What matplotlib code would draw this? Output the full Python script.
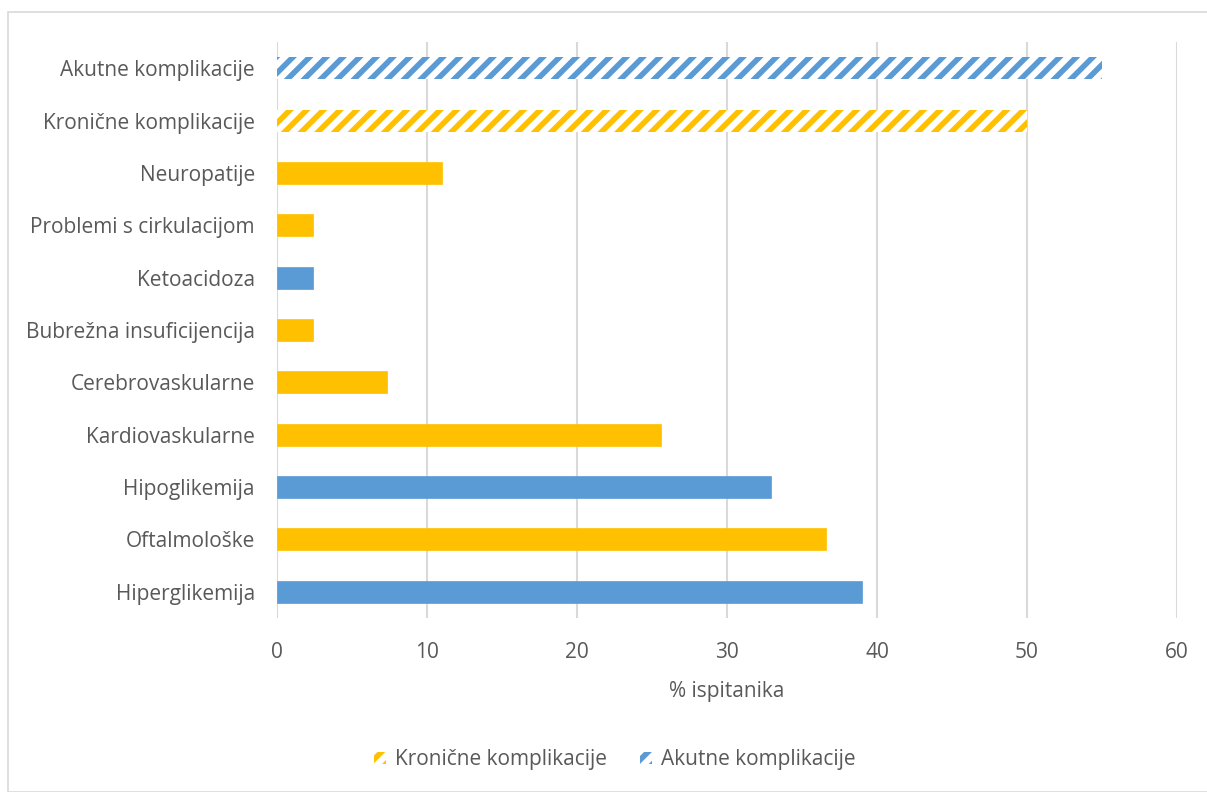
import matplotlib
matplotlib.use("Agg")
import matplotlib.pyplot as plt
from matplotlib.patches import Rectangle, Patch

plt.rcParams['font.family'] = ['Open Sans', 'DejaVu Sans']
plt.rcParams['hatch.linewidth'] = 4.0

categories = ["Hiperglikemija", "Oftalmološke", "Hipoglikemija", "Kardiovaskularne",
              "Cerebrovaskularne", "Bubrežna insuficijencija", "Ketoacidoza",
              "Problemi s cirkulacijom", "Neuropatije", "Kronične komplikacije",
              "Akutne komplikacije"]
values = [39.0, 36.6, 32.9, 25.6, 7.3, 2.4, 2.4, 2.4, 11.0, 50.0, 55.0]
types = ["A", "K", "A", "K", "K", "K", "A", "K", "K", "KT", "AT"]

YELLOW = "#FFC000"
BLUE = "#5B9BD5"
TXT = "#595959"
GRID = "#D9D9D9"

W, H = 1207, 792
fig = plt.figure(figsize=(W/100, H/100), dpi=100)
ax = fig.add_axes([277/W, 1-618/H, 900/W, (618-42)/H])

for i, (v, t) in enumerate(zip(values, types)):
    col = YELLOW if t.startswith("K") else BLUE
    if t.endswith("T"):
        ax.barh(i, v, height=0.42, color="white", edgecolor=col, hatch="//", linewidth=0, zorder=3)
    else:
        ax.barh(i, v, height=0.42, color=col, edgecolor=col, linewidth=0.5, zorder=3)

ax.set_xlim(0, 60)
ax.set_ylim(-0.5, len(categories)-0.5)
ax.set_xticks(range(0, 61, 10))
ax.set_yticks(range(len(categories)))
ax.set_yticklabels(categories)
ax.grid(axis='x', color=GRID, linewidth=1.5, zorder=0)
for s in ax.spines.values():
    s.set_visible(False)
ax.tick_params(axis='both', length=0, colors=TXT, labelsize=15)
ax.tick_params(axis='y', pad=16)
ax.tick_params(axis='x', pad=17)
ax.set_xlabel("% ispitanika", color=TXT, fontsize=15, labelpad=13)

handles = [Patch(facecolor="white", edgecolor=YELLOW, hatch="//", linewidth=0, label="Kronične komplikacije"),
           Patch(facecolor="white", edgecolor=BLUE, hatch="//", linewidth=0, label="Akutne komplikacije")]
leg = fig.legend(handles=handles, loc='center', bbox_to_anchor=(615/W, 1-760/H), ncol=2,
                 frameon=False, fontsize=15, handlelength=0.55, handleheight=0.55,
                 handletextpad=0.45, columnspacing=1.6)
for t in leg.get_texts():
    t.set_color(TXT)

fig.patches.append(Rectangle((8/W, 0), (W-8)/W + 0.01, 1-12/H, transform=fig.transFigure,
                             fill=False, edgecolor=GRID, linewidth=1.2))

fig.savefig("out.png", dpi=100)
